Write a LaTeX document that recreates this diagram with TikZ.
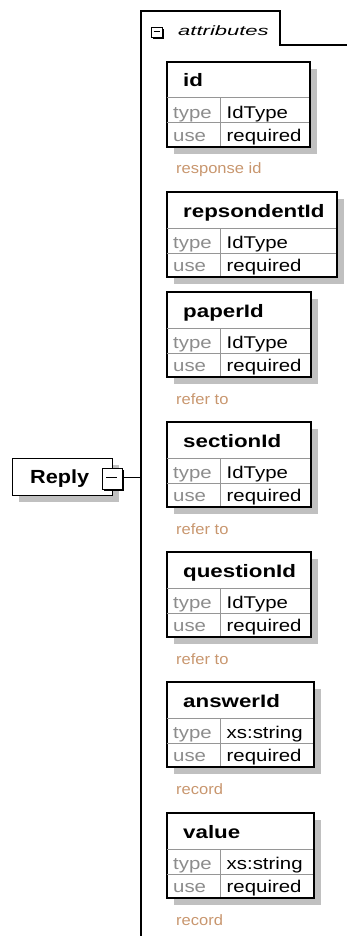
\documentclass[tikz,border=0pt]{standalone}
\usepackage{fontspec}
\usepackage{graphicx}
\setmainfont{Liberation Sans}
\definecolor{shd}{RGB}{192,192,192}
\definecolor{cmt}{RGB}{200,150,110}
\definecolor{lbl}{RGB}{140,140,140}
\definecolor{gridc}{RGB}{150,150,150}
\tikzset{
  outerline/.style={draw=black,line width=1.4pt},
  gridline/.style={draw=gridc,line width=1pt},
  txt/.style={inner sep=0pt,anchor=base west},
  hdrtxt/.style={txt,font=\fontsize{18}{18}\selectfont\bfseries},
  rowlbl/.style={txt,text=lbl,font=\fontsize{17}{17}\selectfont},
  rowval/.style={txt,text=black,font=\fontsize{17}{17}\selectfont},
  cmttxt/.style={txt,text=cmt,font=\fontsize{15}{15}\selectfont},
  boxnode/.style={fill=white,outerline,inner sep=0pt,anchor=north west},
}
\newcommand\hsc[2]{\scalebox{#1}[1]{#2}}
% #1 name, #2 top, #3 right edge, #4 header, #5 type
\newcommand\attrbox[5]{%
  \fill[shd] (173.5,#2+7) rectangle (#3+7,#2+92);
  \node[boxnode,minimum width=#3-166.5,minimum height=85] (#1) at (166.5,#2) {};
  \draw[gridline] (167.3,#2+36) -- (#3-0.7,#2+36);
  \draw[gridline] (167.3,#2+61) -- (#3-0.7,#2+61);
  \draw[gridline] (220,#2+36) -- (220,#2+84.3);
  \draw[outerline] (166.5,#2) rectangle (#3,#2+85);
  \node[hdrtxt] (#1-hdr) at (183,#2+25) {\hsc{1.24}{#4}};
  \node[rowlbl] (#1-tl) at (173,#2+56.5) {\hsc{1.2}{type}};
  \node[rowval] (#1-tv) at (226.5,#2+56.5) {\hsc{1.2}{#5}};
  \node[rowlbl] (#1-ul) at (173,#2+79.5) {\hsc{1.2}{use}};
  \node[rowval] (#1-uv) at (226.5,#2+79.5) {\hsc{1.2}{required}};
}
% #1 name, #2 box top, #3 text
\newcommand\attrcmt[3]{%
  \node[cmttxt] (#1) at (176,#2+112) {\hsc{1.1}{#3}};
}
\begin{document}
\begin{tikzpicture}[x=1pt,y=-1pt]
\useasboundingbox (0,0) rectangle (347,936);
% attributes container
\draw[line width=1.4pt] (141,940) -- (141,11) -- (280,11) -- (280,45) -- (350,45);
\coordinate (attrline) at (141,477);
% attributes expander
\fill[black] (153,29) rectangle (164,39);
\node[draw=black,fill=white,line width=1pt,inner sep=0pt,minimum width=11,minimum height=10,anchor=north west] (attrminus) at (151,27) {};
\draw[line width=1pt] (153.5,32) -- (159.5,32);
\node[txt,font=\fontsize{13.5}{13.5}\selectfont\itshape] (attrlabel) at (178,35.5) {\hsc{1.63}{attributes}};
% boxes
\attrbox{id}{62}{310}{id}{IdType}
\attrcmt{idc}{62}{response id}
\attrbox{resp}{192}{337}{repsondentId}{IdType}
\attrbox{paper}{292}{311}{paperId}{IdType}
\attrcmt{paperc}{292}{refer to}
\attrbox{section}{422}{311}{sectionId}{IdType}
\attrcmt{sectionc}{422}{refer to}
\attrbox{question}{552}{311}{questionId}{IdType}
\attrcmt{questionc}{552}{refer to}
\attrbox{answer}{682}{314}{answerId}{xs:string}
\attrcmt{answerc}{682}{record}
\attrbox{value}{813}{314}{value}{xs:string}
\attrcmt{valuec}{813}{record}
% Reply element
\fill[shd] (19,465) rectangle (119,502);
\node[boxnode,minimum width=100,minimum height=37] (reply) at (12,458) {};
\node[txt,font=\fontsize{19}{19}\selectfont\bfseries] (replytxt) at (30,483) {\hsc{1.14}{Reply}};
\fill[black] (104,470) rectangle (124,491);
\node[draw=black,fill=white,line width=1pt,inner sep=0pt,minimum width=20,minimum height=21,anchor=north west] (replyminus) at (102,468) {};
\draw[line width=1pt] (106,477.5) -- (117,477.5);
\draw[line width=1pt] (replyminus.east |- attrline) -- (attrline);
\end{tikzpicture}
\end{document}
